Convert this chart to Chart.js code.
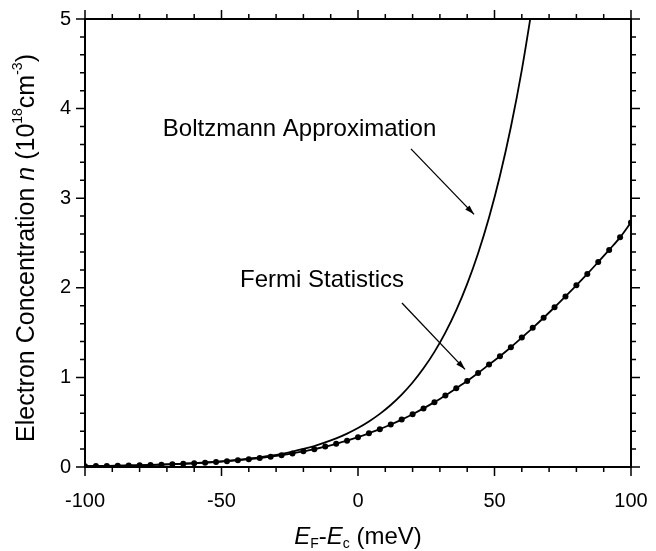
<!DOCTYPE html>
<html>
<head>
<meta charset="utf-8">
<script src="https://cdn.jsdelivr.net/npm/chart.js@4.4.0/dist/chart.umd.min.js"></script>
<style>
  html, body { margin: 0; padding: 0; background: #fff; }
</style>
</head>
<body>
<canvas id="myChart" width="656" height="551"></canvas>
<script>
// E_F - E_c (meV), Fermi points every 4 meV
const energy = [-100, -96, -92, -88, -84, -80, -76, -72, -68, -64, -60, -56, -52, -48, -44, -40, -36, -32, -28, -24, -20, -16, -12, -8, -4,
                0, 4, 8, 12, 16, 20, 24, 28, 32, 36, 40, 44, 48, 52, 56, 60, 64, 68, 72, 76, 80, 84, 88, 92, 96, 100];
// n (1e18 cm^-3), Fermi statistics
const fermi = [0.009, 0.011, 0.012, 0.014, 0.017, 0.019, 0.023, 0.026, 0.031, 0.036, 0.041, 0.048, 0.056, 0.065, 0.075, 0.086, 0.100, 0.115, 0.132, 0.152, 0.175, 0.199, 0.228, 0.259, 0.294,
               0.333, 0.376, 0.422, 0.474, 0.529, 0.589, 0.654, 0.724, 0.798, 0.879, 0.960, 1.049, 1.143, 1.236, 1.336, 1.444, 1.553, 1.666, 1.783, 1.904, 2.028, 2.155, 2.288, 2.423, 2.563, 2.730];
// Boltzmann approximation
const boltzEnergy = [-100, -96, -92, -88, -84, -80, -76, -72, -68, -64, -60, -56, -52, -48, -44, -40, -36, -32, -28, -24, -20, -16, -12, -8, -4,
                     0, 4, 8, 12, 16, 20, 24, 28, 32, 36, 40, 44, 48, 52, 56, 60, 64];
const boltzmann = [0.009, 0.011, 0.012, 0.015, 0.017, 0.020, 0.023, 0.027, 0.031, 0.037, 0.043, 0.050, 0.058, 0.068, 0.079, 0.093, 0.108, 0.126, 0.147, 0.172, 0.201, 0.234, 0.274, 0.319, 0.373,
                   0.435, 0.508, 0.593, 0.692, 0.808, 0.943, 1.101, 1.285, 1.500, 1.751, 2.044, 2.386, 2.785, 3.251, 3.795, 4.430, 5.171];
const xTicks = [-100, -50, 0, 50, 100];
const yTicks = [0, 1, 2, 3, 4, 5];

// annotations in data units
const notes = [
    { text: 'Boltzmann Approximation', x: -71.5, y: 3.77, from: [19.4, 3.55], to: [42.5, 2.82] },
    { text: 'Fermi Statistics', x: -43.2, y: 2.08, from: [16.1, 1.83], to: [39.2, 1.09] }
];

const FONT = '"Liberation Sans", Arial, sans-serif';

function richText(ctx, parts, cx, cy) {
    let w = 0;
    parts.forEach(p => { ctx.font = p.font; p.w = ctx.measureText(p.t).width; w += p.w; });
    let x = cx - w / 2;
    parts.forEach(p => {
        ctx.font = p.font;
        ctx.fillText(p.t, x, cy + (p.dy || 0));
        x += p.w;
    });
}

function noPad(s) {
    s.paddingLeft = 0; s.paddingRight = 0; s.paddingTop = 0; s.paddingBottom = 0;
}

const framePlugin = {
    id: 'frame',
    afterDraw(chart) {
        const ctx = chart.ctx;
        const a = chart.chartArea;
        const sx = chart.scales.x, sy = chart.scales.y;
        ctx.save();
        ctx.strokeStyle = '#000';
        ctx.fillStyle = '#000';
        ctx.lineWidth = 2;
        ctx.strokeRect(a.left, a.top, a.right - a.left, a.bottom - a.top);

        // ticks, outward on all sides
        ctx.lineWidth = 1.5;
        ctx.beginPath();
        for (let v = -100; v <= 100; v += 10) {
            const px = sx.getPixelForValue(v);
            const len = (v % 50 === 0) ? 9 : 5;
            ctx.moveTo(px, a.bottom); ctx.lineTo(px, a.bottom + len);
            ctx.moveTo(px, a.top); ctx.lineTo(px, a.top - len);
        }
        for (let i = 0; i <= 25; i++) {
            const v = i * 0.2;
            const py = sy.getPixelForValue(v);
            const len = (i % 5 === 0) ? 9 : 5;
            ctx.moveTo(a.left, py); ctx.lineTo(a.left - len, py);
            ctx.moveTo(a.right, py); ctx.lineTo(a.right + len, py);
        }
        ctx.stroke();

        // axis titles
        ctx.textBaseline = 'middle';
        ctx.textAlign = 'left';
        richText(ctx, [
            { t: 'E', font: 'italic 24px ' + FONT },
            { t: 'F', font: '14px ' + FONT, dy: 7 },
            { t: '-', font: '24px ' + FONT },
            { t: 'E', font: 'italic 24px ' + FONT },
            { t: 'c', font: '14px ' + FONT, dy: 7 },
            { t: ' (meV)', font: '24px ' + FONT }
        ], sx.getPixelForValue(0), 537);

        ctx.save();
        ctx.translate(27, 248);
        ctx.rotate(-Math.PI / 2);
        richText(ctx, [
            { t: 'Electron Concentration ', font: '25px ' + FONT },
            { t: 'n', font: 'italic 25px ' + FONT },
            { t: ' (10', font: '25px ' + FONT },
            { t: '18', font: '14px ' + FONT, dy: -9 },
            { t: 'cm', font: '25px ' + FONT },
            { t: '-3', font: '14px ' + FONT, dy: -9 },
            { t: ')', font: '25px ' + FONT }
        ], 0, 0);
        ctx.restore();

        // notes with arrows
        ctx.font = '24px ' + FONT;
        ctx.lineWidth = 1.3;
        notes.forEach(n => {
            ctx.fillText(n.text, sx.getPixelForValue(n.x), sy.getPixelForValue(n.y));
            const x1 = sx.getPixelForValue(n.from[0]), y1 = sy.getPixelForValue(n.from[1]);
            const x2 = sx.getPixelForValue(n.to[0]), y2 = sy.getPixelForValue(n.to[1]);
            ctx.beginPath(); ctx.moveTo(x1, y1); ctx.lineTo(x2, y2); ctx.stroke();
            const ang = Math.atan2(y2 - y1, x2 - x1);
            ctx.beginPath();
            ctx.moveTo(x2, y2);
            ctx.lineTo(x2 - 10 * Math.cos(ang - 0.3), y2 - 10 * Math.sin(ang - 0.3));
            ctx.lineTo(x2 - 10 * Math.cos(ang + 0.3), y2 - 10 * Math.sin(ang + 0.3));
            ctx.closePath();
            ctx.fill();
        });
        ctx.restore();
    }
};

const ctx = document.getElementById('myChart');
const myChart = new Chart(ctx, {
    type: 'line',
    data: {
        datasets: [{
            label: 'Boltzmann Approximation',
            data: boltzEnergy.map((e, i) => ({ x: e, y: boltzmann[i] })),
            borderColor: '#000',
            borderWidth: 1.8,
            pointRadius: 0,
            cubicInterpolationMode: 'monotone',
            fill: false
        }, {
            label: 'Fermi Statistics',
            data: energy.map((e, i) => ({ x: e, y: fermi[i] })),
            borderColor: '#000',
            borderWidth: 1.8,
            pointRadius: 3,
            pointBackgroundColor: '#000',
            pointBorderWidth: 0,
            cubicInterpolationMode: 'monotone',
            fill: false
        }]
    },
    options: {
        responsive: false,
        animation: false,
        devicePixelRatio: 1,
        layout: { padding: 0 },
        plugins: { legend: { display: false }, tooltip: { enabled: false } },
        scales: {
            x: {
                type: 'linear', position: 'bottom', min: -100, max: 100,
                afterBuildTicks: s => { s.ticks = xTicks.map(v => ({ value: v })); },
                ticks: { color: '#000', font: { size: 20, family: FONT }, padding: 22, maxRotation: 0 },
                grid: { display: false, drawTicks: false },
                border: { display: false },
                afterFit: s => { s.height = 84; noPad(s); }
            },
            x2: {
                type: 'linear', position: 'top', min: -100, max: 100,
                ticks: { display: false },
                grid: { display: false, drawTicks: false },
                border: { display: false },
                afterFit: s => { s.height = 19; noPad(s); }
            },
            y: {
                type: 'linear', position: 'left', min: 0, max: 5,
                afterBuildTicks: s => { s.ticks = yTicks.map(v => ({ value: v })); },
                ticks: { color: '#000', font: { size: 20, family: FONT }, padding: 14 },
                grid: { display: false, drawTicks: false },
                border: { display: false },
                afterFit: s => { s.width = 85; noPad(s); }
            },
            y2: {
                type: 'linear', position: 'right', min: 0, max: 5,
                ticks: { display: false },
                grid: { display: false, drawTicks: false },
                border: { display: false },
                afterFit: s => { s.width = 25; noPad(s); }
            }
        }
    },
    plugins: [framePlugin]
});
</script>
</body>
</html>
